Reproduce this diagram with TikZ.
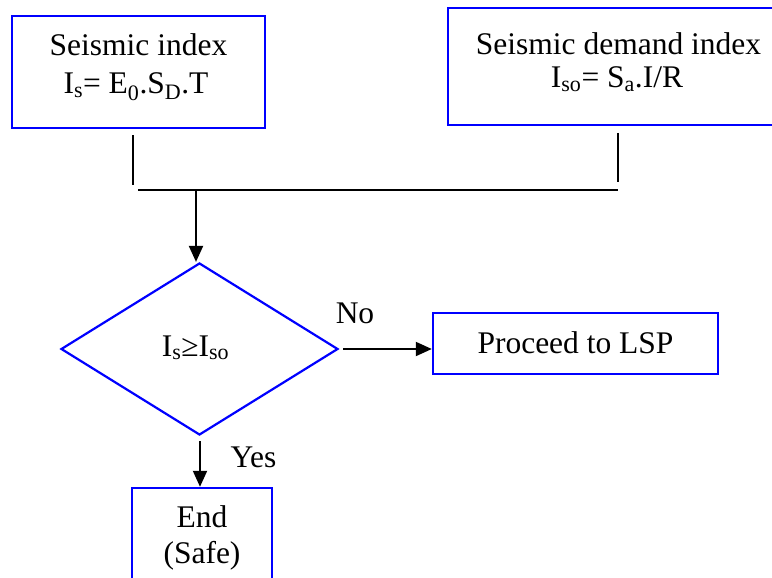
\documentclass[tikz,border=0pt]{standalone}
\usepackage{fontspec}
\setmainfont{Liberation Serif}
\usetikzlibrary{shapes.geometric,arrows.meta}
\definecolor{boxblue}{RGB}{0,0,255}

\begin{document}
\begin{tikzpicture}[x=1pt,y=-1pt,
  every node/.style={font=\fontsize{31.5}{38}\selectfont, inner sep=0pt},
  frame/.style={draw=boxblue, line width=2.4pt, rectangle},
  caption/.style={anchor=base},
  link/.style={line width=2pt, draw=black},
  flow/.style={link, -{Triangle[length=16pt,width=14pt]}}]
\useasboundingbox (0,0) rectangle (772,578);
\clip (0,0) rectangle (772,578);
\fill[white] (0,0) rectangle (772,578);

% input blocks
\node[frame, minimum width=253pt, minimum height=112pt] (index) at (138.5,72) {};
\node[caption] (indexA) at (138.5,56) {Seismic index};
\node[caption] (indexB) at (136,94) {I\textsubscript{s}= E\textsubscript{0}.S\textsubscript{D}.T};

\node[frame, minimum width=340pt, minimum height=117pt] (demand) at (618,66.5) {};
\node[caption] (demandA) at (618.5,55) {Seismic demand index};
\node[caption] (demandB) at (617,88) {I\textsubscript{so}= S\textsubscript{a}.I/R};

% decision
\node[diamond, draw=boxblue, line width=2.2pt, aspect=1.61,
      minimum width=277pt, minimum height=172pt] (test) at (199.5,349) {};
\node[caption] (testtxt) at (195.5,356) {I\textsubscript{s}≥I\textsubscript{so}};

% outcomes
\node[frame, minimum width=285pt, minimum height=61pt] (proceed) at (575.5,343.5) {};
\node[caption] (proceedtxt) at (575.5,353) {Proceed to LSP};

\node[frame, minimum width=140pt, minimum height=122pt] (stop) at (202,549) {};
\node[caption] (stopA) at (202,527) {End};
\node[caption] (stopB) at (202,563) {(Safe)};

% merging lines
\coordinate (stubL1) at (133,135);
\coordinate (stubL2) at (133,185);
\coordinate (stubR1) at (618,133);
\coordinate (stubR2) at (618,182);
\coordinate (busL) at (138,190);
\coordinate (busR) at (618,190);
\coordinate (busmid) at (196,190);
\draw[link] (stubL1) -- (stubL2);
\draw[link] (stubR1) -- (stubR2);
\draw[link] (busL) -- (busR);
\draw[flow] (busmid) -- (busmid |- test.north);

% branches
\coordinate (nostart) at ([shift={(4,0)}]test.east);
\draw[flow] (nostart) -- (nostart -| proceed.west);
\node[caption] (nolbl) at (355,323) {No};
\coordinate (yesstart) at (200,441);
\draw[flow] (yesstart) -- (yesstart |- stop.north);
\node[caption] (yeslbl) at (253.5,467) {Yes};
\end{tikzpicture}
\end{document}
